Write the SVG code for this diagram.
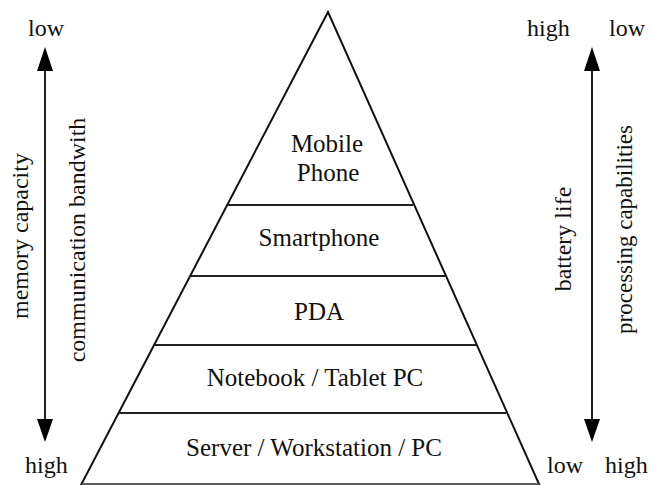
<svg xmlns="http://www.w3.org/2000/svg" width="652" height="485" viewBox="0 0 652 485">
<defs>
<style>
text{font-family:"Liberation Serif","Times New Roman",serif;fill:#111}
.lvl{font-size:25px;text-anchor:middle}
.lab{font-size:24px}
.side{font-size:24px;text-anchor:middle}
.edge{fill:none;stroke:#111;stroke-width:2;stroke-linejoin:miter}
.div{stroke:#222;stroke-width:2}
.arr{stroke:#222;stroke-width:2;fill:none}
</style>
<marker id="ah" viewBox="0 0 16 23" refX="8" refY="0" markerWidth="16" markerHeight="23" markerUnits="userSpaceOnUse" orient="auto-start-reverse">
<path d="M0,23 L8,0 L16,23 Z" fill="#000"/>
</marker>
</defs>
<rect width="652" height="485" fill="#fff"/>
<g id="pyramid">
<polygon class="edge" points="328,12 81.5,484 539,484"/>
<line x1="82" y1="484" x2="539" y2="484" stroke="#aaa" stroke-width="1"/>
</g>
<g id="connectors">
<line class="div" x1="228" y1="205" x2="413" y2="205"/>
<line class="div" x1="191" y1="276" x2="445" y2="276"/>
<line class="div" x1="155" y1="345" x2="476" y2="345"/>
<line class="div" x1="119" y1="413" x2="506" y2="413"/>
<line class="arr" x1="45" y1="70" x2="45" y2="419"/>
<path d="M37,71 L45,47 L53,71 Z" fill="#000"/>
<path d="M37,419 L45,442 L53,419 Z" fill="#000"/>
<line class="arr" x1="592" y1="70" x2="592" y2="419"/>
<path d="M584,71 L592,47 L600,71 Z" fill="#000"/>
<path d="M584,419 L592,442 L600,419 Z" fill="#000"/>
</g>
<g id="mobile-phone"><text class="lvl" x="327" y="152">Mobile</text><text class="lvl" x="328" y="181">Phone</text></g>
<g id="smartphone"><text class="lvl" x="319" y="246">Smartphone</text></g>
<g id="pda"><text class="lvl" x="319" y="320">PDA</text></g>
<g id="notebook"><text class="lvl" x="315" y="386">Notebook / Tablet PC</text></g>
<g id="server"><text class="lvl" x="314" y="456">Server / Workstation / PC</text></g>
<g id="labels">
<text class="lab" x="28" y="36">low</text>
<text class="lab" x="25" y="473">high</text>
<text class="lab" x="527" y="36">high</text>
<text class="lab" x="609" y="36">low</text>
<text class="lab" x="547" y="473">low</text>
<text class="lab" x="605" y="473">high</text>
<text class="side" transform="translate(27.5,236) rotate(-90)">memory capacity</text>
<text class="side" transform="translate(85,240) rotate(-90)">communication bandwith</text>
<text class="side" transform="translate(571,239) rotate(-90)">battery life</text>
<text class="side" style="font-size:23px" transform="translate(632,229.5) rotate(-90)">processing capabilities</text>
</g>
</svg>
